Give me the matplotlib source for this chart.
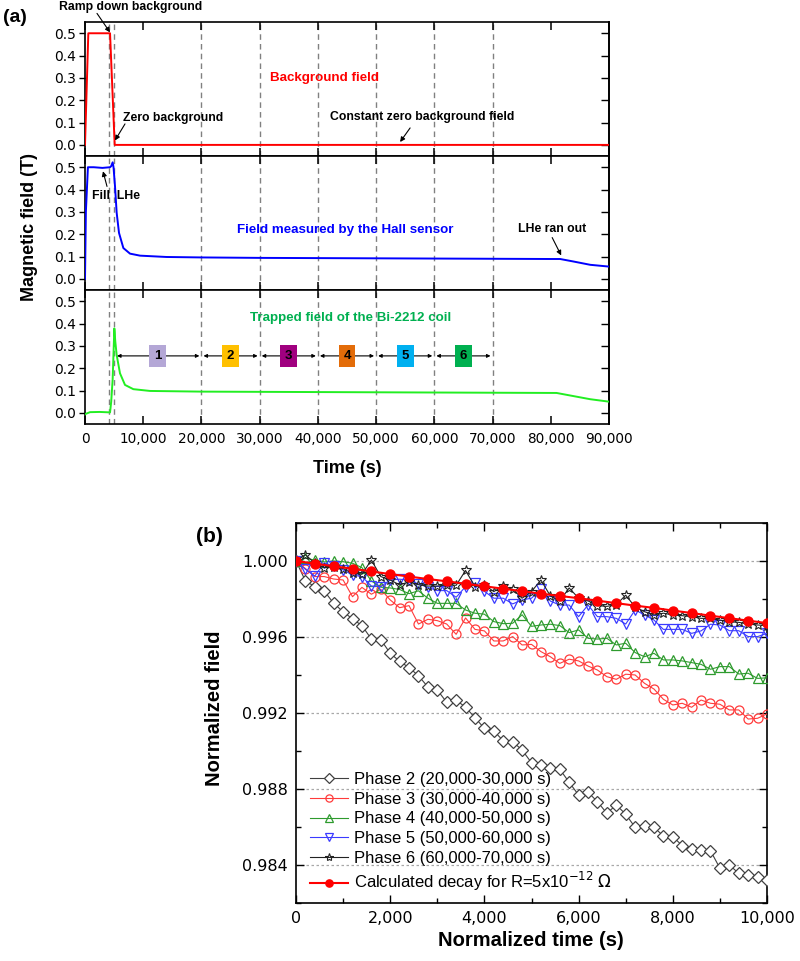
import numpy as np
import matplotlib
matplotlib.use("Agg")
import matplotlib.pyplot as plt
from matplotlib.patches import Rectangle
from matplotlib.ticker import MultipleLocator, FuncFormatter

plt.rcParams['font.family'] = ['DejaVu Sans']
plt.rcParams['mathtext.fontset'] = 'dejavusans'

# ---------------- Panel (a) data ----------------
bg_t = [0, 570, 4300, 5100, 90000]
bg_v = [0.0, 0.5, 0.5, 0.0, 0.0]

hall_t = [0, 150, 500, 1500, 3000, 4300, 4500, 4750, 4900, 5150, 5440, 5840, 6590,
          7730, 9450, 14000, 20000, 30000, 40000, 50000, 60000, 70000, 80000, 81600,
          83850, 86770, 90000]
hall_v = [0.0, 0.30, 0.50, 0.50, 0.497, 0.50, 0.505, 0.522, 0.50, 0.416, 0.296, 0.206,
          0.138, 0.113, 0.104, 0.098, 0.096, 0.094, 0.093, 0.092, 0.091, 0.090, 0.089,
          0.089, 0.078, 0.063, 0.055]

trap_t = [0, 860, 2500, 4300, 4500, 4750, 5040, 5200, 5440, 6010, 6870, 8300, 11170,
          20000, 40000, 60000, 81000, 86770, 90000]
trap_v = [-0.006, 0.003, 0.004, 0.002, 0.05, 0.15, 0.378, 0.32, 0.259, 0.177, 0.125,
          0.106, 0.098, 0.095, 0.093, 0.091, 0.089, 0.061, 0.050]

dash_lines = [4200, 5000, 20000, 30000, 40000, 50000, 60000, 70000]
phase_edges = [5000, 20000, 30000, 40000, 50000, 60000, 70000]
phase_labels = ['1', '2', '3', '4', '5', '6']
phase_colors = ['#B4A7D6', '#FFC000', '#A0007F', '#E36C09', '#00B0F0', '#00B050']

# ---------------- Panel (b) data ----------------
t_b = np.arange(0, 10001, 200)
t_calc = np.arange(0, 10001, 400)

phase2 = [1.0000, 0.99895, 0.99865, 0.99842, 0.99777, 0.99733, 0.99695, 0.99660, 0.99589,
          0.99586, 0.99514, 0.99472, 0.99439, 0.99396, 0.99337, 0.99321, 0.99256, 0.99268,
          0.99230, 0.99175, 0.99119, 0.99105, 0.99054, 0.99049, 0.99005, 0.98938, 0.98926,
          0.98909, 0.98904, 0.98835, 0.98768, 0.98783, 0.98733, 0.98672, 0.98716, 0.98667,
          0.98598, 0.98607, 0.98598, 0.98553, 0.98549, 0.98502, 0.98486, 0.98479, 0.98475,
          0.98383, 0.98400, 0.98356, 0.98347, 0.98335, 0.98322]
phase3 = [1.0000, 0.99960, 0.99918, 0.99918, 0.99905, 0.99900, 0.99812, 0.99861, 0.99825,
          0.99851, 0.99795, 0.99754, 0.99765, 0.99668, 0.99693, 0.99686, 0.99668, 0.99614,
          0.99700, 0.99640, 0.99632, 0.99579, 0.99579, 0.99602, 0.99558, 0.99561, 0.99523,
          0.99496, 0.99461, 0.99483, 0.99474, 0.99447, 0.99426, 0.99391, 0.99377, 0.99404,
          0.99400, 0.99356, 0.99326, 0.99272, 0.99242, 0.99251, 0.99230, 0.99268, 0.99251,
          0.99246, 0.99216, 0.99216, 0.99168, 0.99172, 0.99195]
phase4 = [1.0000, 1.00014, 1.00005, 0.99995, 1.00000, 0.99996, 0.99988, 0.99965, 0.99895,
          0.99862, 0.99858, 0.99850, 0.99828, 0.99843, 0.99804, 0.99777, 0.99777, 0.99777,
          0.99742, 0.99725, 0.99720, 0.99681, 0.99670, 0.99672, 0.99717, 0.99656, 0.99663,
          0.99667, 0.99660, 0.99623, 0.99637, 0.99593, 0.99589, 0.99593, 0.99558, 0.99567,
          0.99518, 0.99496, 0.99514, 0.99479, 0.99479, 0.99474, 0.99465, 0.99456, 0.99430,
          0.99444, 0.99444, 0.99405, 0.99409, 0.99382, 0.99385]
phase5 = [1.0000, 0.99956, 0.99921, 0.99990, 0.99971, 0.99953, 0.99926, 0.99918, 0.99868,
          0.99865, 0.99900, 0.99904, 0.99900, 0.99879, 0.99861, 0.99844, 0.99844, 0.99809,
          0.99865, 0.99882, 0.99840, 0.99804, 0.99804, 0.99774, 0.99795, 0.99804, 0.99851,
          0.99789, 0.99768, 0.99768, 0.99707, 0.99768, 0.99707, 0.99707, 0.99698, 0.99668,
          0.99742, 0.99716, 0.99689, 0.99640, 0.99640, 0.99640, 0.99619, 0.99632, 0.99667,
          0.99663, 0.99633, 0.99633, 0.99602, 0.99602, 0.99619]
phase6 = [1.0000, 1.00033, 0.99988, 0.99965, 0.99970, 0.99960, 0.99935, 0.99930, 1.00005,
          0.99918, 0.99900, 0.99874, 0.99890, 0.99875, 0.99868, 0.99868, 0.99874, 0.99872,
          0.99950, 0.99865, 0.99874, 0.99839, 0.99868, 0.99851, 0.99804, 0.99839, 0.99900,
          0.99816, 0.99790, 0.99858, 0.99804, 0.99790, 0.99765, 0.99761, 0.99770, 0.99820,
          0.99758, 0.99733, 0.99716, 0.99725, 0.99716, 0.99712, 0.99707, 0.99698, 0.99698,
          0.99689, 0.99680, 0.99677, 0.99668, 0.99663, 0.99660]
calc = [1.0000, 0.99986, 0.99972, 0.99959, 0.99945, 0.99931, 0.99918, 0.99905, 0.99893,
        0.99880, 0.99867, 0.99854, 0.99841, 0.99828, 0.99816, 0.99804, 0.99791, 0.99778,
        0.99765, 0.99753, 0.99739, 0.99726, 0.99712, 0.99699, 0.99686, 0.99673]

legend_labels = ['Phase 2 (20,000-30,000 s)', 'Phase 3 (30,000-40,000 s)',
                 'Phase 4 (40,000-50,000 s)', 'Phase 5 (50,000-60,000 s)',
                 'Phase 6 (60,000-70,000 s)',
                 r'Calculated decay for R=5x10$^{\mathsf{-12}}$ $\Omega$']

# ---------------- Figure ----------------
fig = plt.figure(figsize=(8, 9.61), dpi=100)
comma = FuncFormatter(lambda v, p: f'{int(round(v)):,}')
ARIAL = 'Liberation Sans'

ax_h = 0.1394
axs = []
for i in range(3):
    ax = fig.add_axes([0.10625, 0.5588 + (2 - i) * ax_h, 0.655, ax_h])
    axs.append(ax)

curves = [(bg_t, bg_v, '#FF0000'), (hall_t, hall_v, '#0000FF'), (trap_t, trap_v, '#22EE22')]
for i, ax in enumerate(axs):
    ax.set_xlim(0, 90000)
    ax.set_ylim(-0.05, 0.55)
    for x in dash_lines:
        ax.axvline(x, color='#808080', ls=(0, (4, 3)), lw=1.0, zorder=1)
    t, v, c = curves[i]
    ax.plot(t, v, color=c, lw=1.4, zorder=3)
    ax.xaxis.set_major_locator(MultipleLocator(10000))
    ax.xaxis.set_major_formatter(comma)
    ax.set_yticks([0.0, 0.1, 0.2, 0.3, 0.4, 0.5])
    ax.yaxis.set_major_formatter(FuncFormatter(lambda v, p: f'{v:.1f}'))
    ax.tick_params(axis='x', direction='in', top=True, bottom=True, length=5.5, width=1.1,
                   labelsize=9.8, labelbottom=(i == 2), pad=6)
    ax.tick_params(axis='y', direction='out', left=True, right=False, length=4.5, width=1.0,
                   labelsize=10, pad=2)
    sec = ax.secondary_yaxis('right')
    sec.set_yticks([0.0, 0.1, 0.2, 0.3, 0.4, 0.5])
    sec.tick_params(direction='in', length=6, width=1.0, labelright=False)
    sec.spines['right'].set_linewidth(1.2)
    for s in ax.spines.values():
        s.set_linewidth(1.2)

ax1, ax2, ax3 = axs

arrow_kw = dict(arrowstyle='-|>', color='k', lw=0.8, mutation_scale=7, shrinkA=0, shrinkB=0)

# Top panel annotations
ax1.text(7900, 0.616, 'Ramp down background', ha='center', va='center', fontsize=8.8,
         fontweight='bold', family=ARIAL, clip_on=False)
ax1.annotate('', xy=(4300, 0.504), xytext=(2060, 0.589), arrowprops=arrow_kw,
             annotation_clip=False)
ax1.text(41060, 0.299, 'Background field', ha='center', va='center', fontsize=9.6,
         fontweight='bold', family=ARIAL, color='#FF0000')
ax1.text(6530, 0.12, 'Zero background', ha='left', va='center', fontsize=8.8,
         fontweight='bold', family=ARIAL)
ax1.annotate('', xy=(5150, 0.02), xytext=(6870, 0.094), arrowprops=arrow_kw)
ax1.text(42100, 0.125, 'Constant zero background field', ha='left', va='center',
         fontsize=8.8, fontweight='bold', family=ARIAL)
ax1.annotate('', xy=(54120, 0.013), xytext=(55840, 0.076), arrowprops=arrow_kw)

# Middle panel annotations
ax2.text(1200, 0.369, 'Fill  LHe', ha='left', va='center', fontsize=8.8,
         fontweight='bold', family=ARIAL)
ax2.annotate('', xy=(3090, 0.482), xytext=(3780, 0.414), arrowprops=arrow_kw)
ax2.text(44670, 0.221, 'Field measured by the Hall sensor', ha='center', va='center',
         fontsize=9.6, fontweight='bold', family=ARIAL, color='#0000FF')
ax2.text(74400, 0.225, 'LHe ran out', ha='left', va='center', fontsize=8.8,
         fontweight='bold', family=ARIAL)
ax2.annotate('', xy=(81790, 0.105), xytext=(80240, 0.185), arrowprops=arrow_kw)

# Bottom panel annotations
ax3.text(45700, 0.424, 'Trapped field of the Bi-2212 coil', ha='center', va='center',
         fontsize=9.6, fontweight='bold', family=ARIAL, color='#00B050')
y_ph = 0.255
for k in range(len(phase_labels)):
    a, b = phase_edges[k], phase_edges[k + 1]
    a_in = a + (500 if k == 0 else 350)
    ax3.annotate('', xy=(b - 350, y_ph), xytext=(a_in, y_ph),
                 arrowprops=dict(arrowstyle='<|-|>', color='k', lw=0.8, mutation_scale=5,
                                 shrinkA=0, shrinkB=0), zorder=4)
    cx = (a + b) / 2
    ax3.add_patch(Rectangle((cx - 1450, y_ph - 0.05), 2900, 0.10, facecolor=phase_colors[k],
                            edgecolor='none', zorder=5))
    ax3.text(cx, y_ph, phase_labels[k], ha='center', va='center', fontsize=9.5,
             fontweight='bold', family=ARIAL, zorder=6)

fig.text(0.037, 1 - 227 / 961, 'Magnetic field (T)', rotation=90, ha='center', va='center',
         fontsize=13, fontweight='bold', family=ARIAL)
fig.text(347 / 800, 1 - 468 / 961, 'Time (s)', ha='center', va='center', fontsize=13,
         fontweight='bold', family=ARIAL)
fig.text(3 / 800, 1 - 17 / 961, '(a)', ha='left', va='center', fontsize=14,
         fontweight='bold', family=ARIAL)

# ---------------- Panel (b) ----------------
axb = fig.add_axes([0.37, 0.0604, 0.58875, 0.3954])
axb.set_xlim(0, 10000)
axb.set_ylim(0.982, 1.002)
axb.set_yticks([0.984, 0.988, 0.992, 0.996, 1.000])
axb.yaxis.set_major_formatter(FuncFormatter(lambda v, p: f'{v:.3f}'))
axb.yaxis.set_minor_locator(MultipleLocator(0.002))
axb.xaxis.set_major_locator(MultipleLocator(2000))
axb.xaxis.set_minor_locator(MultipleLocator(1000))
axb.xaxis.set_major_formatter(comma)
axb.tick_params(which='both', direction='in', top=True, right=True, width=1.0)
axb.tick_params(which='major', length=6, labelsize=11.5, pad=6)
axb.tick_params(which='minor', length=3.5)
axb.grid(axis='y', which='major', ls=(0, (2, 2)), color='#A8A8A8', lw=0.9, zorder=0)
axb.set_axisbelow(True)
for s in axb.spines.values():
    s.set_linewidth(1.2)

ms = 6.5
mew = 0.9
axb.plot(t_b, phase2, color='#404040', lw=0.8, marker='D', ms=6.5, mfc='white', mec='#404040',
         mew=mew, label=legend_labels[0], zorder=3)
axb.plot(t_b, phase3, color='#FF3B3B', lw=0.8, marker='o', ms=ms, mfc='none', mec='#FF3B3B',
         mew=mew, label=legend_labels[1], zorder=3)
axb.plot(t_b, phase4, color='#2E9B2E', lw=0.8, marker='^', ms=7.5, mfc='none', mec='#2E9B2E',
         mew=mew, label=legend_labels[2], zorder=3)
axb.plot(t_b, phase5, color='#3A3AFF', lw=0.8, marker='v', ms=7.5, mfc='none', mec='#3A3AFF',
         mew=mew, label=legend_labels[3], zorder=3)
axb.plot(t_b, phase6, color='#222222', lw=0.8, marker='*', ms=7.5, mfc='none', mec='#222222',
         mew=0.8, label=legend_labels[4], zorder=3)
axb.plot(t_calc, calc, color='#FF0000', lw=1.5, marker='o', ms=6.5, mfc='#FF0000',
         mec='#FF0000', label=legend_labels[5], zorder=4)

axb.legend(loc='lower left', bbox_to_anchor=(0.03, 0.025), frameon=False,
           prop={'family': ARIAL, 'size': 12}, handlelength=2.3, handletextpad=0.35,
           labelspacing=0.28, borderaxespad=0, borderpad=0, markerscale=0.8)

fig.text(215 / 800, 1 - 708 / 961, 'Normalized field', rotation=90, ha='center',
         va='center', fontsize=14.5, fontweight='bold', family=ARIAL)
fig.text(531 / 800, 1 - 940 / 961, 'Normalized time (s)', ha='center', va='center',
         fontsize=14.5, fontweight='bold', family=ARIAL)
fig.text(196 / 800, 1 - 536 / 961, '(b)', ha='left', va='center', fontsize=15,
         fontweight='bold', family=ARIAL)

fig.savefig('out.png', dpi=100)
